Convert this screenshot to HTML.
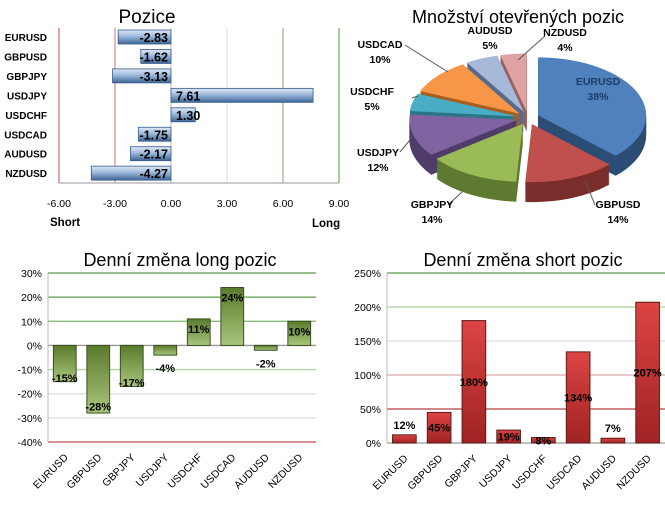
<!DOCTYPE html>
<html><head><meta charset="utf-8"><style>
html,body{margin:0;padding:0;background:#fff;}
svg{display:block;font-family:"Liberation Sans",sans-serif;}
</style></head><body>
<svg id="s" width="665" height="509" viewBox="0 0 665 509" xmlns="http://www.w3.org/2000/svg">
<defs>
<linearGradient id="gb" x1="0" y1="0" x2="0" y2="1"><stop offset="0" stop-color="#dfe9f5"/><stop offset="0.45" stop-color="#9db9dc"/><stop offset="1" stop-color="#3d6596"/></linearGradient>
<linearGradient id="gg" x1="0" y1="0" x2="0" y2="1"><stop offset="0" stop-color="#5a7a2c"/><stop offset="1" stop-color="#a9c67c"/></linearGradient>
<linearGradient id="gr" x1="0" y1="0" x2="0" y2="1"><stop offset="0" stop-color="#dd4444"/><stop offset="1" stop-color="#a02323"/></linearGradient>
</defs>
<g id="c1"></g>
<g id="c2"></g>
<g id="c3"></g>
<g id="c4"></g>
</svg>
<script>
const pairs = ["EURUSD","GBPUSD","GBPJPY","USDJPY","USDCHF","USDCAD","AUDUSD","NZDUSD"];
const positions = [-2.83,-1.62,-3.13,7.61,1.30,-1.75,-2.17,-4.27];
const posTicks = [-6,-3,0,3,6,9];
const pieValues = [38,14,14,12,5,10,5,4];
const longChange = [-15,-28,-17,-4,11,24,-2,10];
const longTicks = [30,20,10,0,-10,-20,-30,-40];
const shortChange = [12,45,180,19,8,134,7,207];
const shortTicks = [250,200,150,100,50,0];

const NS="http://www.w3.org/2000/svg";
function mk(p,tag,at,txt){const e=document.createElementNS(NS,tag);for(const k in at)e.setAttribute(k,at[k]);if(txt!==undefined)e.textContent=txt;p.appendChild(e);return e;}
const c1=document.getElementById('c1'),c2=document.getElementById('c2'),c3=document.getElementById('c3'),c4=document.getElementById('c4');

// ---- Chart 1 ----
(function(){
 const x=v=>171+(v)*18.67, y=i=>37+i*19.45;
 let t=mk(c1,'text',{x:147,y:23,'text-anchor':'middle','font-size':19},'Pozice');
 
 
 const cols={"-6":"#c0504d","-3":"#d07070","0":"#bbb","3":"#ddd","6":"#77a866","9":"#4f9a3f"};
 posTicks.forEach(v=>{
  let l=mk(c1,'line',{x1:x(v),x2:x(v),y1:28,y2:183,stroke:cols[v],'stroke-width':1});
  
  
  let tt=mk(c1,'text',{x:x(v),y:207,'text-anchor':'middle','font-size':10.5},v.toFixed(2));
  
  
 });
 mk(c1,'line',{x1:59,x2:339,y1:183,y2:183,stroke:'#999'});
 let s=mk(c1,'text',{x:50,y:226,'font-size':11.5,'font-weight':'bold'},'Short');
 
 
 let lg=mk(c1,'text',{x:312,y:227,'font-size':11.5,'font-weight':'bold'},'Long');
 
 
 pairs.forEach((p,i)=>{
  const v=positions[i];
  let lab=mk(c1,'text',{x:47,y:y(i)+4,'text-anchor':'end','font-size':10,'font-weight':'bold'},p);
  
  
  const x0=Math.min(x(0),x(v)),w=Math.abs(x(v)-x(0));
  let b=mk(c1,'rect',{x:x0,y:y(i)-7,width:w,height:14,fill:'url(#gb)',stroke:'#35598a','stroke-width':0.8});
  
  
  let vl=mk(c1,'text',{x:v<0?168:176,y:y(i)+5,'text-anchor':v<0?'end':'start','font-size':12.5,'font-weight':'bold'},v.toFixed(2));
  
  
 });
})();

// ---- Chart 2 (3D pie) ----
(function(){
 let t=mk(c2,'text',{x:518,y:23,'text-anchor':'middle','font-size':18},'Množství otevřených pozic');
 
 
 const cx=528,cy=118,rx=108,ry=58,d=20,ex=11;
 const top=['#4f81bd','#c0504d','#9bbb59','#8064a2','#4bacc6','#f79646','#a6b9d8','#e0a3a3'];
 const side=['#2c4d75','#7a2e2c','#5f7a30','#4f3d69','#2b7688','#a85e1f','#566b8c','#9a6262'];
 const tot=pieValues.reduce((a,b)=>a+b,0);
 let a=0; const sl=[];
 pieValues.forEach((v,i)=>{const a0=a,a1=a+v/tot*2*Math.PI;a=a1;sl.push([a0,a1,i]);});
 const pt=(ox,oy,ang)=>[ox+rx*Math.sin(ang),oy-ry*Math.cos(ang)];
 function path(ox,oy,a0,a1){const p0=pt(ox,oy,a0),p1=pt(ox,oy,a1);const lg=(a1-a0)>Math.PI?1:0;
  return `M${ox},${oy}L${p0[0]},${p0[1]}A${rx},${ry} 0 ${lg} 1 ${p1[0]},${p1[1]}Z`;}
 const order=sl.slice().sort((p,q)=>Math.cos((q[0]+q[1])/2)-Math.cos((p[0]+p[1])/2));
 order.forEach(([a0,a1,i])=>{
  const m=(a0+a1)/2,ox=cx+ex*Math.sin(m),oy=cy-ex*0.6*Math.cos(m);
  const g=mk(c2,'g',{});
  
  
  for(let k=d;k>0;k-=1) mk(g,'path',{d:path(ox,oy+k,a0,a1),fill:side[i]});
  mk(g,'path',{d:path(ox,oy,a0,a1),fill:top[i]});
 });
 const labs=[[598,85,'#1f3d66'],[618,208,'#000'],[432,208,'#000'],[378,156,'#000'],[372,95,'#000'],[380,48,'#000'],[490,34,'#000'],[565,36,'#000']];
 const lines=[null,[585,180,595,205],[462,192,448,205],[410,140,400,152],[412,98,418,96],[448,72,405,45],null,[518,60,545,36]];
 pieValues.forEach((v,i)=>{
  const [lx,ly,col]=labs[i];
  if(lines[i]){let ln=mk(c2,'polyline',{points:lines[i].join(','),fill:'none',stroke:'#555','stroke-width':1});
   
   }
  let tx=mk(c2,'text',{x:lx,y:ly,'text-anchor':'middle','font-size':10.5,'font-weight':'bold',fill:col},pairs[i]);
  
  
  let pv=mk(c2,'text',{x:lx,y:ly+15,'text-anchor':'middle','font-size':10.5,'font-weight':'bold',fill:col},v+'%');
  
  
 });
})();

// ---- Bar chart helper ----
function barChart(g,cfg){
 const {vals,ticks,x0,x1,yTop,yBot,title,tx,fill,stroke,gridCols,labelFn}=cfg;
 const vmax=ticks[0],vmin=ticks[ticks.length-1];
 const y=v=>yTop+(vmax-v)/(vmax-vmin)*(yBot-yTop);
 const bw=(x1-x0)/vals.length;
 let t=mk(g,'text',{x:tx,y:266,'text-anchor':'middle','font-size':18},title);
 
 
 ticks.forEach((v,k)=>{
  let l=mk(g,'line',{x1:x0,x2:x1,y1:y(v),y2:y(v),stroke:gridCols[k],'stroke-width':1.3});
  
  
  let tl=mk(g,'text',{x:x0-6,y:y(v)+4,'text-anchor':'end','font-size':10.5},v+'%');
  
  
 });
 mk(g,'line',{x1:x0,x2:x0,y1:yTop,y2:yBot,stroke:'#bbb'});
 vals.forEach((v,i)=>{
  const cx=x0+bw*(i+0.5),ya=Math.min(y(0),y(v)),h=Math.abs(y(v)-y(0));
  let b=mk(g,'rect',{x:cx-bw*0.34,y:ya,width:bw*0.68,height:Math.max(h,1),fill:fill,stroke:stroke,'stroke-width':1});
  
  
  let vl=mk(g,'text',{x:cx,y:labelFn(v,y),'text-anchor':'middle','font-size':11,'font-weight':'bold'},v+'%');
  
  
  let cl=mk(g,'text',{x:cx+4,y:y(vmin)+16,'text-anchor':'end','font-size':10.5,transform:`rotate(-45 ${cx+4} ${y(vmin)+16})`},pairs[i]);
  
  
 });
}
barChart(c3,{vals:longChange,ticks:longTicks,x0:48,x1:316,yTop:273,yBot:442,title:'Denní změna long pozic',tx:180,
 fill:'url(#gg)',stroke:'#3d4f22',gridCols:['#5c9e4a','#5c9e4a','#7cb46a','#999','#b5d4a8','#ddd','#ddd','#c0504d'],
 labelFn:(v,y)=>Math.abs(v)<8?(v<0?y(v)+17:y(v)-4):(v>0?y(v)+14:y(v*0.9)+4)});
barChart(c4,{vals:shortChange,ticks:shortTicks,x0:387,x1:665,yTop:273,yBot:443,title:'Denní změna short pozic',tx:523,
 fill:'url(#gr)',stroke:'#5a1a1a',gridCols:['#5c9e4a','#a8d09a','#ddd','#e0a8a8','#b04040','#999'],
 labelFn:(v,y)=>(v<15&&v!==8)?y(v)-6:y(v/2)+4});
</script>
</body></html>
